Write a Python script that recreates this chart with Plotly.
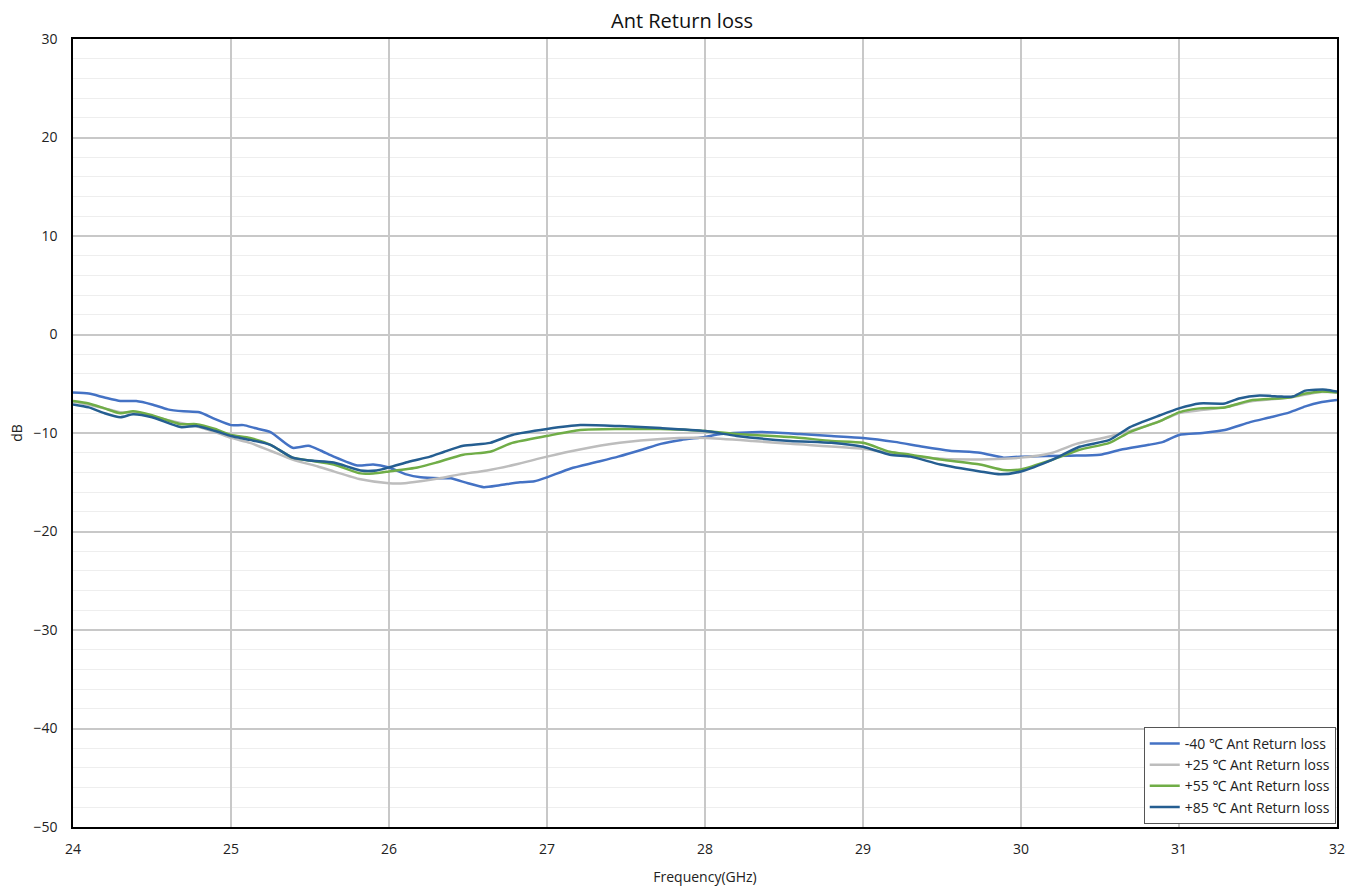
import plotly.graph_objects as go

# -40 C
f_m40 = [24.0, 24.1, 24.2, 24.3, 24.4, 24.5, 24.6, 24.7, 24.8, 24.9, 25.0, 25.08, 25.15, 25.25,
         25.39, 25.49, 25.57, 25.65, 25.8, 25.9, 26.0, 26.11, 26.2, 26.32, 26.39, 26.5, 26.6, 26.7,
         26.83, 26.92, 27.0, 27.15, 27.3, 27.45, 27.6, 27.72, 27.85, 28.0, 28.1, 28.35, 28.6, 28.8,
         29.0, 29.2, 29.38, 29.55, 29.74, 29.89, 30.0, 30.31, 30.5, 30.63, 30.81, 30.9, 31.0, 31.15,
         31.29, 31.45, 31.58, 31.7, 31.8, 31.89, 32.0]
v_m40 = [-5.9, -6.0, -6.4, -6.75, -6.75, -7.1, -7.6, -7.8, -7.9, -8.6, -9.2, -9.2, -9.5, -9.9,
         -11.5, -11.3, -11.8, -12.4, -13.3, -13.2, -13.5, -14.2, -14.5, -14.6, -14.6, -15.1, -15.5, -15.3,
         -15.0, -14.9, -14.5, -13.6, -13.0, -12.4, -11.7, -11.1, -10.7, -10.4, -10.1, -9.9, -10.1, -10.3,
         -10.5, -10.9, -11.4, -11.8, -12.0, -12.5, -12.4, -12.3, -12.2, -11.7, -11.2, -10.9, -10.2, -10.0,
         -9.7, -8.9, -8.4, -7.9, -7.3, -6.9, -6.65]

# +25 C
f_p25 = [24.0, 24.2, 24.3, 24.4, 24.6, 24.75, 24.9, 25.0, 25.12, 25.25, 25.39, 25.55, 25.65, 25.82,
         26.0, 26.1, 26.2, 26.32, 26.45, 26.62, 26.8, 27.0, 27.2, 27.46, 27.72, 28.0, 28.3, 28.54,
         29.0, 29.2, 29.4, 29.68, 30.0, 30.2, 30.35, 30.52, 30.69, 30.88, 31.0, 31.29, 31.45, 31.7,
         31.9, 32.0]
v_p25 = [-6.8, -7.5, -7.9, -7.9, -8.7, -9.2, -9.9, -10.5, -11.0, -11.8, -12.7, -13.4, -13.9, -14.7,
         -15.1, -15.1, -14.9, -14.6, -14.2, -13.8, -13.2, -12.4, -11.7, -11.0, -10.6, -10.5, -10.8, -11.1,
         -11.6, -12.1, -12.5, -12.7, -12.5, -12.0, -11.1, -10.5, -9.8, -8.8, -8.0, -7.4, -6.8, -6.4,
         -5.8, -5.9]

# +55 C
f_p55 = [24.0, 24.1, 24.2, 24.3, 24.38, 24.5, 24.68, 24.78, 24.9, 25.0, 25.12, 25.25, 25.39, 25.5,
         25.65, 25.82, 25.9, 26.0, 26.18, 26.3, 26.47, 26.64, 26.78, 27.0, 27.21, 27.46, 27.72, 28.0,
         28.2, 28.54, 28.8, 29.0, 29.17, 29.3, 29.49, 29.74, 29.89, 30.0, 30.2, 30.37, 30.56, 30.69,
         30.88, 31.0, 31.13, 31.29, 31.45, 31.7, 31.8, 31.9, 32.0]
v_p55 = [-6.75, -7.0, -7.5, -8.0, -7.8, -8.2, -9.1, -9.1, -9.6, -10.2, -10.5, -11.2, -12.5, -12.8,
         -13.2, -14.1, -14.1, -13.9, -13.5, -13.0, -12.2, -11.9, -11.0, -10.3, -9.7, -9.6, -9.6, -9.8,
         -10.1, -10.4, -10.8, -11.0, -11.9, -12.2, -12.7, -13.2, -13.75, -13.7, -12.7, -11.7, -11.0, -9.9,
         -8.8, -7.9, -7.5, -7.4, -6.7, -6.4, -6.0, -5.8, -5.9]

# +85 C
f_p85 = [24.0, 24.1, 24.2, 24.3, 24.38, 24.5, 24.68, 24.78, 24.9, 25.0, 25.12, 25.25, 25.39, 25.5,
         25.65, 25.82, 25.92, 26.0, 26.13, 26.26, 26.35, 26.47, 26.64, 26.78, 27.0, 27.21, 27.46, 27.72,
         28.0, 28.2, 28.54, 28.8, 29.0, 29.17, 29.3, 29.49, 29.74, 29.87, 30.0, 30.2, 30.37, 30.56,
         30.69, 30.88, 31.0, 31.13, 31.29, 31.38, 31.51, 31.65, 31.72, 31.8, 31.93, 32.0]
v_p85 = [-7.1, -7.4, -8.0, -8.4, -8.1, -8.4, -9.4, -9.3, -9.8, -10.3, -10.7, -11.2, -12.5, -12.8,
         -13.0, -13.8, -13.8, -13.5, -12.9, -12.4, -11.9, -11.3, -11.0, -10.2, -9.6, -9.2, -9.3, -9.5,
         -9.8, -10.3, -10.8, -11.0, -11.4, -12.2, -12.4, -13.2, -13.9, -14.2, -13.9, -12.7, -11.4, -10.7,
         -9.4, -8.2, -7.5, -7.0, -7.0, -6.5, -6.2, -6.3, -6.3, -5.7, -5.6, -5.8]

names = ["-40 \u2103 Ant Return loss", "+25 \u2103 Ant Return loss",
         "+55 \u2103 Ant Return loss", "+85 \u2103 Ant Return loss"]
colors = ["#4472C4", "#BDBDBD", "#70AD47", "#255E91"]
series = [(f_m40, v_m40), (f_p25, v_p25), (f_p55, v_p55), (f_p85, v_p85)]

fig = go.Figure()
for (fx, fy), nm, c in zip(series, names, colors):
    fig.add_trace(go.Scatter(x=fx, y=fy, name=nm, mode="lines",
                             line=dict(color=c, width=2.5, shape="spline", smoothing=0.6)))

fig.update_layout(
    width=1364, height=886,
    margin=dict(l=73, r=27, t=39, b=59),
    paper_bgcolor="white", plot_bgcolor="white",
    font=dict(family="Open Sans, Noto Sans, sans-serif", size=14, color="#222222"),
    title=dict(text="Ant Return loss", x=0.5, xanchor="center", y=0.976, yanchor="middle",
               font=dict(size=20, color="#111111")),
    showlegend=True,
    legend=dict(x=0.999, y=0.004, xanchor="right", yanchor="bottom",
                bgcolor="white", bordercolor="#555555", borderwidth=1,
                font=dict(size=14, color="#222222")),
)
fig.update_xaxes(range=[24, 32], dtick=1, tick0=24, automargin=False,
                 showgrid=True, gridcolor="#C8C8C8", gridwidth=1.5,
                 showline=True, linecolor="black", linewidth=1.5, mirror=True,
                 zeroline=False, ticks="", ticklabelstandoff=8,
                 tickfont=dict(size=14, color="#222222"),
                 title=dict(text="Frequency(GHz)", font=dict(size=14), standoff=16))
fig.update_yaxes(range=[-50, 30], dtick=10, tick0=-50, automargin=False,
                 showgrid=True, gridcolor="#C8C8C8", gridwidth=1.5,
                 minor=dict(dtick=2, showgrid=True, gridcolor="#EEEEEE", gridwidth=1),
                 showline=True, linecolor="black", linewidth=1.5, mirror=True,
                 zeroline=False, ticks="", ticklabelstandoff=11,
                 tickfont=dict(size=14, color="#222222"),
                 title=dict(text="dB", font=dict(size=14), standoff=8))

fig.write_html("out.html")
